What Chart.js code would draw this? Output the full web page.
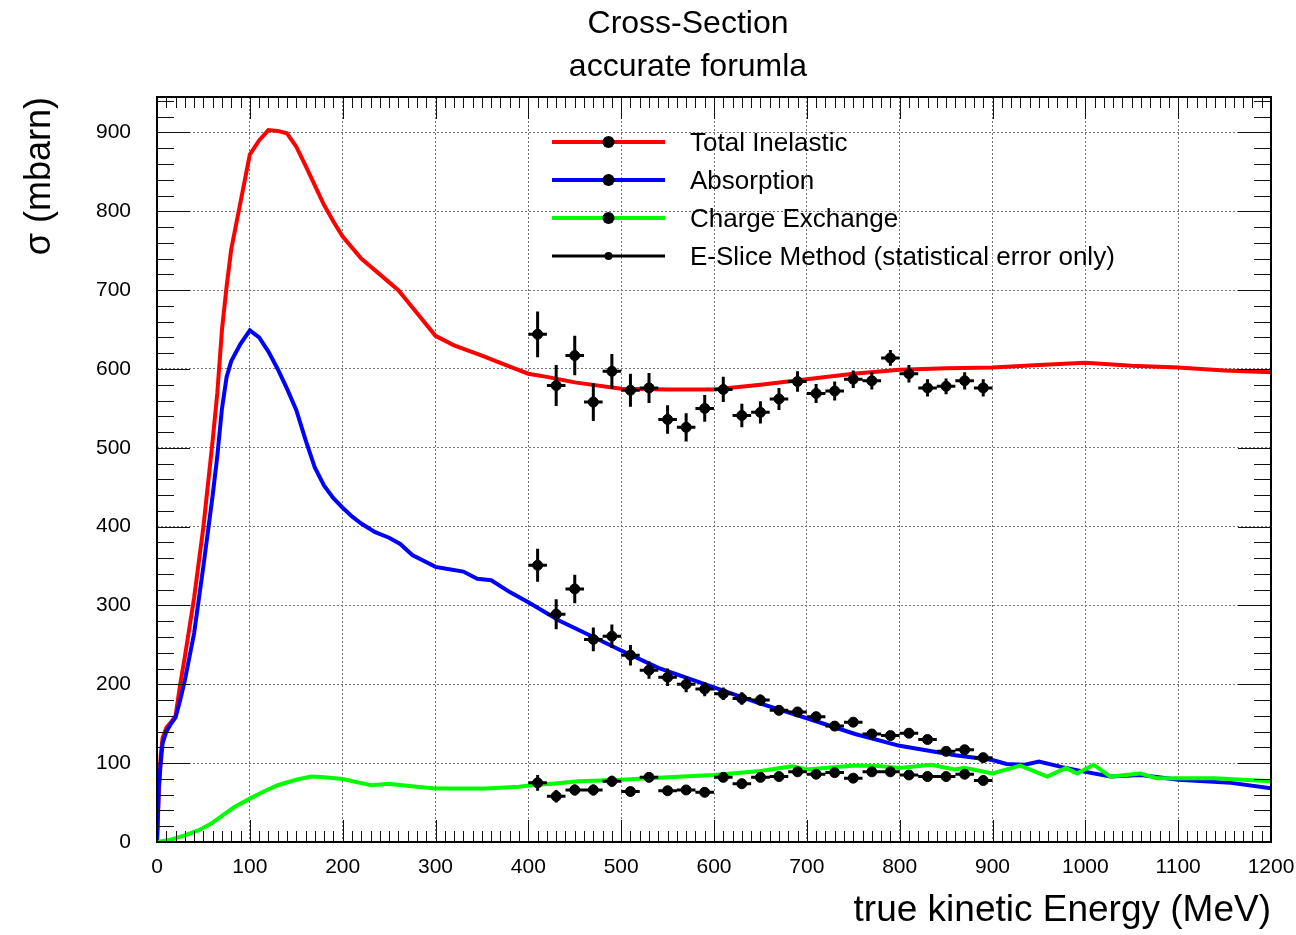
<!DOCTYPE html>
<html>
<head>
<meta charset="utf-8">
<title>Cross-Section</title>
<script src="https://cdn.jsdelivr.net/npm/chart.js@4.4.1/dist/chart.umd.min.js"></script>
<style>
  html, body { margin: 0; padding: 0; background: #fff; }
  #wrap { width: 1296px; height: 935px; }
</style>
</head>
<body>
<div id="wrap"><canvas id="xsec" width="1296" height="935"></canvas></div>
<script>
const FONT = "'Liberation Sans', Arial, Helvetica, sans-serif"

const titleLines = ['Cross-Section', 'accurate forumla']
const xTitle = 'true kinetic Energy (MeV)'
const yTitle = 'σ (mbarn)'
const seriesNames = ['Total Inelastic', 'Absorption', 'Charge Exchange', 'E-Slice Method (statistical error only)']

// axis ranges / tick steps
const xMin = 0, xMax = 1200, xMajor = 100, xMinor = 10
const yMin = 0, yMax = 945, yMajor = 100, yMinor = 20

// theory curves: true kinetic energy (MeV) -> sigma (mbarn)
const totalE = [0, 2, 4, 6, 10, 15, 20, 25, 30, 40, 50, 60, 65, 70, 75, 80, 90, 100, 110, 120, 130, 140, 150, 160, 170, 180, 190, 200, 220, 240, 260, 280, 300, 320, 350, 380, 400, 420, 450, 500, 550, 600, 650, 700, 750, 800, 850, 900, 950, 1000, 1050, 1100, 1150, 1200]
const totalXS = [0, 65, 110, 132, 145, 152, 160, 200, 235, 310, 400, 510, 570, 650, 705, 752, 812, 872, 890, 903, 902, 899, 882, 858, 833, 808, 787, 768, 740, 720, 700, 671, 642, 630, 617, 603, 594, 590, 583, 575, 574, 574, 580, 587, 594, 599, 601, 602, 605, 608, 604, 602, 598, 596]

const absE = [0, 2, 4, 6, 10, 15, 20, 25, 30, 40, 50, 55, 60, 65, 70, 75, 80, 90, 100, 110, 120, 130, 140, 150, 160, 170, 180, 190, 200, 210, 220, 235, 250, 262, 275, 300, 310, 330, 345, 360, 380, 400, 433, 470, 500, 540, 600, 646, 700, 752, 800, 860, 900, 915, 935, 950, 975, 1000, 1027, 1060, 1100, 1157, 1200]
const absXS = [0, 70, 100, 125, 140, 150, 158, 180, 205, 265, 350, 395, 440, 490, 550, 590, 610, 632, 649, 640, 622, 600, 575, 548, 510, 475, 452, 436, 424, 413, 404, 393, 386, 378, 364, 349, 347, 343, 334, 332, 317, 304, 281, 260, 243, 221, 196, 177, 157, 137, 122, 110, 104, 99, 98, 102, 95, 89, 83, 85, 79, 75, 68]

const cexE = [0, 15, 29, 45, 58, 70, 83, 100, 115, 130, 150, 166, 180, 200, 215, 231, 250, 264, 280, 300, 354, 390, 403, 426, 454, 500, 550, 600, 650, 684, 700, 752, 780, 800, 834, 859, 870, 900, 930, 959, 979, 991, 1009, 1027, 1059, 1077, 1100, 1139, 1200]
const cexXS = [0, 3, 8, 15, 23, 33, 44, 55, 64, 72, 79, 83, 82, 80, 76, 72, 74, 72, 70, 68, 68, 70, 72, 74, 77, 79, 82, 85, 90, 96, 92, 97, 96, 94, 98, 92, 94, 87, 97, 83, 94, 87, 98, 83, 87, 81, 81, 81, 77]

// E-slice measurement: bin centres, half bin width, values and stat errors
const sliceE = [410, 430, 450, 470, 490, 510, 530, 550, 570, 590, 610, 630, 650, 670, 690, 710, 730, 750, 770, 790, 810, 830, 850, 870, 890]
const sliceHalfWidth = 10
const sliceTotal = [644, 579, 617, 558, 597, 573, 576, 536, 526, 550, 574, 541, 545, 562, 584, 569, 572, 587, 585, 614, 594, 576, 578, 585, 576]
const sliceTotalErr = [29, 26, 25, 24, 22, 21, 19, 18, 18, 17, 16, 15, 14, 14, 13, 12, 12, 11, 11, 10, 11, 11, 10, 11, 11]
const sliceAbs = [351, 289, 321, 257, 261, 237, 218, 209, 200, 194, 188, 182, 180, 167, 165, 159, 147, 152, 137, 135, 138, 130, 115, 117, 107]
const sliceAbsErr = [21, 19, 18, 15, 15, 13, 11, 11, 10, 9, 8, 8, 7, 6, 5, 5, 5, 5, 4, 4, 4, 4, 4, 4, 4]
const sliceCex = [75, 58, 66, 66, 77, 64, 82, 65, 66, 63, 82, 74, 82, 83, 89, 86, 88, 81, 89, 89, 85, 83, 83, 86, 78]
const sliceCexErr = [10, 8, 7, 7, 7, 6, 6, 6, 5, 5, 5, 5, 5, 4, 4, 4, 4, 4, 4, 4, 4, 4, 4, 4, 4]

const toPoints = (xs, ys) => xs.map((x, i) => ({x: x, y: ys[i]}))

function curve(label, xs, ys, color, order) {
  return {
    label: label,
    data: toPoints(xs, ys),
    showLine: true,
    borderColor: color,
    borderWidth: 4,
    pointRadius: 0,
    tension: 0,
    order: order
  }
}

function slice(ys, errs) {
  return {
    label: seriesNames[3],
    data: toPoints(sliceE, ys),
    yErr: errs,
    showLine: false,
    pointRadius: 5,
    pointBackgroundColor: '#000',
    pointBorderColor: '#000',
    order: 0
  }
}

// error bars for the E-slice points, drawn right after each point set
const errorBars = {
  id: 'errorBars',
  afterDatasetDraw(chart, args) {
    const ds = chart.data.datasets[args.index]
    if (!ds.yErr) return
    const {ctx, scales: {x, y}} = chart
    ctx.save()
    ctx.strokeStyle = '#000'
    ctx.lineWidth = 3
    ctx.beginPath()
    ds.data.forEach((p, i) => {
      const px = x.getPixelForValue(p.x)
      const py = y.getPixelForValue(p.y)
      ctx.moveTo(px, y.getPixelForValue(p.y - ds.yErr[i]))
      ctx.lineTo(px, y.getPixelForValue(p.y + ds.yErr[i]))
      ctx.moveTo(x.getPixelForValue(p.x - sliceHalfWidth), py)
      ctx.lineTo(x.getPixelForValue(p.x + sliceHalfWidth), py)
    })
    ctx.stroke()
    ctx.restore()
  }
}

// ROOT style frame with inward ticks on all four sides
const rootFrame = {
  id: 'rootFrame',
  afterDatasetsDraw(chart) {
    const {ctx, chartArea: a, scales: {x, y}} = chart
    ctx.save()
    ctx.strokeStyle = '#111'
    ctx.lineWidth = 1
    ctx.beginPath()
    for (let e = xMin; e <= xMax; e += xMinor) {
      const px = Math.round(x.getPixelForValue(e)) + 0.5
      const len = e % xMajor === 0 ? 22 : 11
      ctx.moveTo(px, a.bottom); ctx.lineTo(px, a.bottom - len)
      ctx.moveTo(px, a.top); ctx.lineTo(px, a.top + len)
    }
    for (let s = yMin; s <= yMax; s += yMinor) {
      const py = Math.round(y.getPixelForValue(s)) + 0.5
      const len = s % yMajor === 0 ? 33 : 17
      ctx.moveTo(a.left, py); ctx.lineTo(a.left + len, py)
      ctx.moveTo(a.right, py); ctx.lineTo(a.right - len, py)
    }
    ctx.stroke()
    ctx.lineWidth = 2
    ctx.strokeStyle = '#000'
    ctx.strokeRect(a.left, a.top, a.right - a.left, a.bottom - a.top)
    ctx.restore()
  }
}

const titleAndLegend = {
  id: 'titleAndLegend',
  afterDraw(chart) {
    const {ctx, chartArea: a} = chart
    ctx.save()
    ctx.fillStyle = '#000'
    ctx.textAlign = 'center'
    ctx.textBaseline = 'alphabetic'
    ctx.font = '32px ' + FONT
    ctx.fillText(titleLines[0], 688, 33)
    ctx.fillText(titleLines[1], 688, 76)

    const colors = ['#ff0000', '#0000ff', '#00ff00', '#000000']
    const x0 = a.left + 395, x1 = a.left + 508, xm = (x0 + x1) / 2
    ctx.font = '26px ' + FONT
    ctx.textAlign = 'left'
    seriesNames.forEach((name, i) => {
      const yy = a.top + 45 + i * 38
      const last = i === 3
      ctx.strokeStyle = colors[i]
      ctx.lineWidth = last ? 3 : 4
      ctx.beginPath()
      ctx.moveTo(x0, yy)
      ctx.lineTo(x1, yy)
      ctx.stroke()
      ctx.fillStyle = '#000'
      ctx.beginPath()
      ctx.arc(xm, yy, last ? 4 : 6, 0, Math.PI * 2)
      ctx.fill()
      ctx.fillText(name, a.left + 533, yy + 9)
    })
    ctx.restore()
  }
}

Chart.defaults.font.family = FONT
Chart.defaults.color = '#000'

new Chart(document.getElementById('xsec'), {
  type: 'scatter',
  data: {
    datasets: [
      slice(sliceTotal, sliceTotalErr),
      slice(sliceAbs, sliceAbsErr),
      slice(sliceCex, sliceCexErr),
      curve(seriesNames[2], cexE, cexXS, '#00ff00', 1),
      curve(seriesNames[1], absE, absXS, '#0000ff', 2),
      curve(seriesNames[0], totalE, totalXS, '#ff0000', 3)
    ]
  },
  options: {
    responsive: false,
    animation: false,
    layout: {
      padding: {top: 97, right: 25, left: 0, bottom: 0}
    },
    plugins: {
      legend: {display: false},
      title: {display: false},
      tooltip: {enabled: false}
    },
    scales: {
      x: {
        type: 'linear',
        min: xMin,
        max: xMax,
        afterFit(scale) {
          scale.height = 93
          scale.paddingLeft = 0
          scale.paddingRight = 0
        },
        ticks: {
          stepSize: xMajor,
          includeBounds: false,
          maxRotation: 0,
          padding: 13,
          font: {size: 21},
          color: '#000',
          callback: (v) => String(v)
        },
        grid: {color: '#777', lineWidth: 1, drawTicks: false},
        border: {display: false, dash: [2, 2]},
        title: {
          display: true,
          text: xTitle,
          align: 'end',
          font: {size: 37},
          color: '#000',
          padding: {top: 0, bottom: 2}
        }
      },
      y: {
        type: 'linear',
        min: yMin,
        max: yMax,
        afterFit(scale) { scale.width = 157 },
        ticks: {
          stepSize: yMajor,
          includeBounds: false,
          padding: 26,
          font: {size: 21},
          color: '#000',
          callback: (v) => String(v)
        },
        grid: {color: '#777', lineWidth: 1, drawTicks: false},
        border: {display: false, dash: [2, 2]},
        title: {
          display: true,
          text: yTitle,
          align: 'end',
          font: {size: 36},
          color: '#000',
          padding: {top: 18, bottom: 0}
        }
      }
    }
  },
  plugins: [errorBars, rootFrame, titleAndLegend]
})
</script>
</body>
</html>
